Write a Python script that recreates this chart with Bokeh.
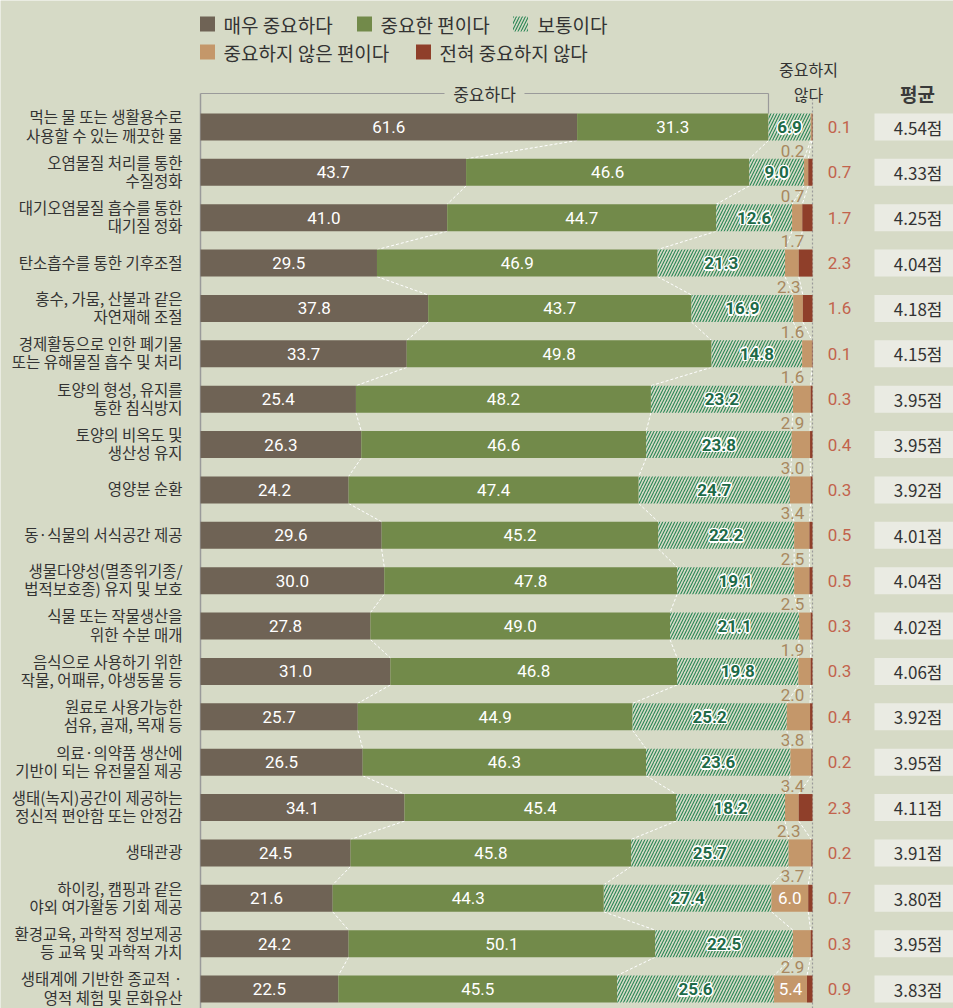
from bokeh.plotting import figure
from bokeh.models import Range1d
from bokeh.embed import file_html
from bokeh.resources import INLINE
from bokeh.core.properties import value

categories = [
    "먹는 물 또는 생활용수로\n사용할 수 있는 깨끗한 물",
    "오염물질 처리를 통한\n수질정화",
    "대기오염물질 흡수를 통한\n대기질 정화",
    "탄소흡수를 통한 기후조절",
    "홍수, 가뭄, 산불과 같은\n자연재해 조절",
    "경제활동으로 인한 폐기물\n또는 유해물질 흡수 및 처리",
    "토양의 형성, 유지를\n통한 침식방지",
    "토양의 비옥도 및\n생산성 유지",
    "영양분 순환",
    "동·식물의 서식공간 제공",
    "생물다양성(멸종위기종/\n법적보호종) 유지 및 보호",
    "식물 또는 작물생산을\n위한 수분 매개",
    "음식으로 사용하기 위한\n작물, 어패류, 야생동물 등",
    "원료로 사용가능한\n섬유, 골재, 목재 등",
    "의료·의약품 생산에\n기반이 되는 유전물질 제공",
    "생태(녹지)공간이 제공하는\n정신적 편안함 또는 안정감",
    "생태관광",
    "하이킹, 캠핑과 같은\n야외 여가활동 기회 제공",
    "환경교육, 과학적 정보제공\n등 교육 및 과학적 가치",
    "생태계에 기반한 종교적 ·\n영적 체험 및 문화유산",
]
very = [61.6, 43.7, 41.0, 29.5, 37.8, 33.7, 25.4, 26.3, 24.2, 29.6, 30.0, 27.8, 31.0, 25.7, 26.5, 34.1, 24.5, 21.6, 24.2, 22.5]
fairly = [31.3, 46.6, 44.7, 46.9, 43.7, 49.8, 48.2, 46.6, 47.4, 45.2, 47.8, 49.0, 46.8, 44.9, 46.3, 45.4, 45.8, 44.3, 50.1, 45.5]
neutral = [6.9, 9.0, 12.6, 21.3, 16.9, 14.8, 23.2, 23.8, 24.7, 22.2, 19.1, 21.1, 19.8, 25.2, 23.6, 18.2, 25.7, 27.4, 22.5, 25.6]
notvery = [0.2, 0.7, 1.7, 2.3, 1.6, 1.6, 2.9, 3.0, 3.4, 2.5, 2.5, 1.9, 2.0, 3.8, 3.4, 2.3, 3.7, 6.0, 2.9, 5.4]
notatall = [0.1, 0.7, 1.7, 2.3, 1.6, 0.1, 0.3, 0.4, 0.3, 0.5, 0.5, 0.3, 0.3, 0.4, 0.2, 2.3, 0.2, 0.7, 0.3, 0.9]
average = [4.54, 4.33, 4.25, 4.04, 4.18, 4.15, 3.95, 3.95, 3.92, 4.01, 4.04, 4.02, 4.06, 3.92, 3.95, 4.11, 3.91, 3.80, 3.95, 3.83]
legend_labels = ["매우 중요하다", "중요한 편이다", "보통이다", "중요하지 않은 편이다", "전혀 중요하지 않다"]
header_important = "중요하다"
header_notimportant = "중요하지\n않다"
header_avg = "평균"
unit = "점"

# ---- styling ----
BG = "#d6dac6"
C_VERY = "#6f6355"
C_FAIR = "#728a4a"
C_HATCH = "#2a8756"
C_TAN = "#c4976a"
C_RED = "#8f3f2a"
C_REDTXT = "#c2634c"
C_TANTXT = "#a8885f"
C_HTXT = "#1e6a48"
C_TXT = "#333333"
C_AVGBOX = "#eaebe3"
KR = value("Noto Sans CJK KR")
NUM = value("Roboto")

W, H = 953, 1008
PX0, PXU = 200.0, 6.12          # bar area starts at px 200, 6.12 px per %
RY0, RDY = 126.5, 45.37         # first row centre, row pitch (px)


def X(px):
    return (px - PX0) / PXU


def Y(py):
    return (py - RY0) / RDY


BH = 27.0 / RDY

p = figure(width=W, height=H, output_backend="svg", toolbar_location=None,
           x_axis_type=None, y_axis_type=None, min_border=0,
           x_range=Range1d(X(0), X(W)), y_range=Range1d(Y(H), Y(0)))
p.background_fill_color = BG
p.border_fill_color = BG
p.outline_line_color = None

n = len(categories)
rows = list(range(n))
series = [very, fairly, neutral, notvery, notatall]
totals = [sum(s[i] for s in series) for i in rows]
cum = [[0.0] * n]
for s in series:
    cum.append([cum[-1][i] + s[i] / totals[i] * 100.0 for i in rows])

# ---- guide lines ----
p.segment(x0=[X(PX0)], y0=[Y(93)], x1=[X(PX0)], y1=[Y(H + 5)], line_color="#9a9a9a", line_width=1.5)
p.segment(x0=[100], y0=[Y(98)], x1=[100], y1=[Y(H + 5)], line_color="#9a9a9a", line_width=1.2, line_dash="2 2")

# bracket "중요하다" over first two categories of the first row
bx_end = cum[2][0]
bx_mid = bx_end / 2.0
gap = 40.0 / PXU
p.segment(x0=[0, bx_mid + gap, bx_end], y0=[Y(93), Y(93), Y(93)],
          x1=[bx_mid - gap, bx_end, bx_end], y1=[Y(93), Y(93), Y(113)],
          line_color="#9a9a9a", line_width=1.2)
p.text(x=[bx_mid], y=[Y(93)], text=[header_important], text_font=KR, text_font_size="17px",
       text_color=C_TXT, text_align="center", text_baseline="middle")
p.text(x=[X(808)], y=[Y(81)], text=[header_notimportant], text_font=KR, text_font_size="16px",
       text_color=C_TXT, text_align="center", text_baseline="middle", text_line_height=1.08)
p.text(x=[X(917)], y=[Y(93)], text=[header_avg], text_font=KR, text_font_size="19px",
       text_font_style="bold", text_color="#3a3a3a", text_align="center", text_baseline="middle")

# ---- connectors (dashed white) ----
for k in range(1, 5):
    p.segment(x0=cum[k][:-1], y0=[i + BH / 2 for i in rows[:-1]],
              x1=cum[k][1:], y1=[i + 1 - BH / 2 for i in rows[:-1]],
              line_color="white", line_width=1, line_dash="3 2")

# ---- bars ----
p.hbar(y=rows, left=cum[0], right=cum[1], height=BH, fill_color=C_VERY, line_color=None)
p.hbar(y=rows, left=cum[1], right=cum[2], height=BH, fill_color=C_FAIR, line_color=None)
p.hbar(y=rows, left=cum[2], right=cum[3], height=BH, fill_color=BG, line_color=None,
       hatch_pattern="/", hatch_color=C_HATCH, hatch_weight=1.1, hatch_scale=6)
p.hbar(y=rows, left=cum[3], right=cum[4], height=BH, fill_color=C_TAN, line_color=None)
p.hbar(y=rows, left=cum[4], right=cum[5], height=BH, fill_color=C_RED, line_color=None)

# ---- bar labels ----
def mid(k):
    return [(cum[k][i] + cum[k + 1][i]) / 2 for i in rows]

p.text(x=mid(0), y=rows, text=[f"{v:.1f}" for v in very], text_font=NUM, text_font_size="17px",
       text_color="white", text_align="center", text_baseline="middle")
p.text(x=mid(1), y=rows, text=[f"{v:.1f}" for v in fairly], text_font=NUM, text_font_size="17px",
       text_color="white", text_align="center", text_baseline="middle")

# neutral labels: dark green with a white halo
neutral_txt = [f"{v:.1f}" for v in neutral]
for dx, dy in [(-1.5, 0), (1.5, 0), (0, -1.5), (0, 1.5), (-1.1, -1.1), (1.1, -1.1), (-1.1, 1.1), (1.1, 1.1)]:
    p.text(x=mid(2), y=rows, text=neutral_txt, text_font=NUM, text_font_size="17px",
           text_font_style="bold", text_color="white", x_offset=dx, y_offset=dy,
           text_align="center", text_baseline="middle")
p.text(x=mid(2), y=rows, text=neutral_txt, text_font=NUM, text_font_size="17px",
       text_font_style="bold", text_color=C_HTXT, text_align="center", text_baseline="middle")

tan_in = [i for i in rows if notvery[i] >= 5]
tan_out = [i for i in rows if notvery[i] < 5]
tm = mid(3)
p.text(x=[tm[i] for i in tan_in], y=tan_in, text=[f"{notvery[i]:.1f}" for i in tan_in],
       text_font=NUM, text_font_size="17px", text_color="white",
       text_align="center", text_baseline="middle")
p.text(x=[min(tm[i], X(795)) - 3 / PXU for i in tan_out], y=[i + BH / 2 + 10 / RDY for i in tan_out],
       text=[f"{notvery[i]:.1f}" for i in tan_out], text_font=NUM, text_font_size="17px",
       text_color=C_TANTXT, text_align="center", text_baseline="middle")

# not-important column
p.text(x=[X(839)] * n, y=rows, text=[f"{v:.1f}" for v in notatall], text_font=NUM,
       text_font_size="17px", text_color=C_REDTXT, text_align="center", text_baseline="middle")

# average column
p.hbar(y=rows, left=X(874), right=X(965), height=BH, fill_color=C_AVGBOX, line_color=None)
p.text(x=[X(942)] * n, y=rows, text=[f"{v:.2f}{unit}" for v in average], text_font=KR,
       text_font_size="17px", text_color=C_TXT, text_align="right", text_baseline="middle")

# category labels
p.text(x=[X(182)] * n, y=[i - 1.5 / RDY for i in rows], text=categories, text_font=KR,
       text_font_size="15.5px", text_color=C_TXT, text_align="right", text_baseline="middle",
       text_line_height=0.83)

# ---- legend ----
leg_px = [(207, 23.5, 223), (364, 23.5, 380), (520, 23.5, 537), (207, 51.5, 223), (423, 51.5, 439)]
leg_cols = [C_VERY, C_FAIR, None, C_TAN, C_RED]
for (sx, sy, tx), col, lab in zip(leg_px, leg_cols, legend_labels):
    if col is None:
        p.scatter(x=[X(sx)], y=[Y(sy)], marker="square", size=15, fill_color=BG, line_color=None,
                  hatch_pattern="/", hatch_color=C_HATCH, hatch_weight=1.1, hatch_scale=6)
    else:
        p.scatter(x=[X(sx)], y=[Y(sy)], marker="square", size=15, fill_color=col, line_color=None)
    p.text(x=[X(tx)], y=[Y(sy)], text=[lab], text_font=KR, text_font_size="19px",
           text_color=C_TXT, text_align="left", text_baseline="middle")

open("out.html", "w").write(file_html(p, INLINE))
